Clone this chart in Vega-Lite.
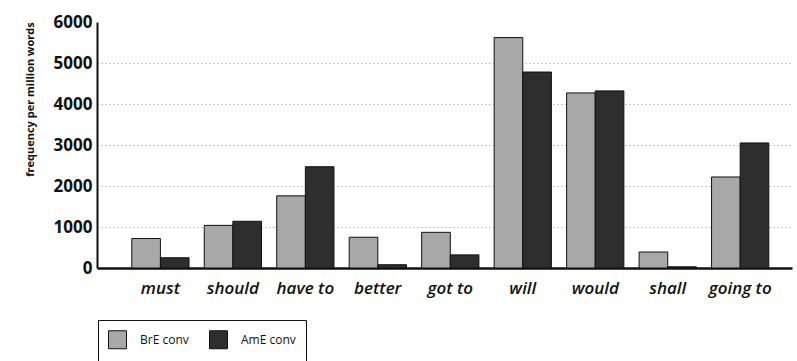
{
  "$schema": "https://vega.github.io/schema/vega-lite/v6.json",
  "autosize": "none",
  "width": 695,
  "height": 246,
  "padding": {"left": 97, "top": 22, "right": 5, "bottom": 93},
  "background": "white",
  "config": {"view": {"stroke": null}, "font": "Open Sans"},
  "data": {"values": [
    {"modal": "must", "variety": "BrE conv", "freq": 720},
    {"modal": "must", "variety": "AmE conv", "freq": 250},
    {"modal": "should", "variety": "BrE conv", "freq": 1040},
    {"modal": "should", "variety": "AmE conv", "freq": 1140},
    {"modal": "have to", "variety": "BrE conv", "freq": 1760},
    {"modal": "have to", "variety": "AmE conv", "freq": 2470},
    {"modal": "better", "variety": "BrE conv", "freq": 750},
    {"modal": "better", "variety": "AmE conv", "freq": 80},
    {"modal": "got to", "variety": "BrE conv", "freq": 870},
    {"modal": "got to", "variety": "AmE conv", "freq": 320},
    {"modal": "will", "variety": "BrE conv", "freq": 5620},
    {"modal": "will", "variety": "AmE conv", "freq": 4780},
    {"modal": "would", "variety": "BrE conv", "freq": 4270},
    {"modal": "would", "variety": "AmE conv", "freq": 4320},
    {"modal": "shall", "variety": "BrE conv", "freq": 390},
    {"modal": "shall", "variety": "AmE conv", "freq": 30},
    {"modal": "going to", "variety": "BrE conv", "freq": 2220},
    {"modal": "going to", "variety": "AmE conv", "freq": 3050}
  ]},
  "mark": {"type": "bar", "stroke": "#111", "strokeWidth": 1},
  "encoding": {
    "x": {
      "field": "modal", "type": "nominal", "sort": null,
      "scale": {"paddingInner": 0.21, "paddingOuter": 0.4, "align": 0.6},
      "axis": {
        "title": null, "labelAngle": 0, "ticks": false,
        "labelFont": "Open Sans", "labelFontSize": 17, "labelFontStyle": "italic", "labelFontWeight": 600,
        "labelColor": "#111", "labelPadding": 12,
        "domainColor": "#111", "domainWidth": 2.5
      }
    },
    "xOffset": {"field": "variety", "type": "nominal", "sort": ["BrE conv", "AmE conv"], "scale": {"paddingInner": 0, "paddingOuter": 0}},
    "y": {
      "field": "freq", "type": "quantitative",
      "scale": {"domain": [0, 6000], "nice": false},
      "axis": {
        "title": "frequency per million words",
        "titleFont": "Open Sans", "titleFontSize": 11, "titleFontWeight": "bold", "titleColor": "#111",
        "titleX": -67, "titleY": 77, "titleAngle": -90, "titleAlign": "center", "titleBaseline": "middle",
        "values": [0, 1000, 2000, 3000, 4000, 5000, 6000],
        "format": "d",
        "ticks": false,
        "labelFont": "Open Sans", "labelFontSize": 17, "labelFontWeight": "bold", "labelColor": "#111",
        "labelPadding": 5,
        "domainColor": "#111", "domainWidth": 2,
        "grid": true,
        "gridDash": [1, 3],
        "gridWidth": 1,
        "gridColor": {"condition": {"test": "datum.value == 0 || datum.value == 6000", "value": "transparent"}, "value": "#8a8a8a"}
      }
    },
    "color": {
      "field": "variety", "type": "nominal",
      "scale": {"domain": ["BrE conv", "AmE conv"], "range": ["#a8a8a8", "#2e2e2e"]},
      "legend": {
        "title": null, "orient": "none", "direction": "horizontal",
        "legendX": 1, "legendY": 298,
        "symbolType": "square", "symbolSize": 324, "symbolStrokeColor": "#111", "symbolStrokeWidth": 1,
        "symbolOpacity": 1,
        "labelFont": "Open Sans", "labelFontSize": 12, "labelColor": "#111", "labelOffset": 13,
        "columnPadding": 18,
        "padding": 10,
        "strokeColor": "#111",
        "fillColor": "white"
      }
    }
  }
}
